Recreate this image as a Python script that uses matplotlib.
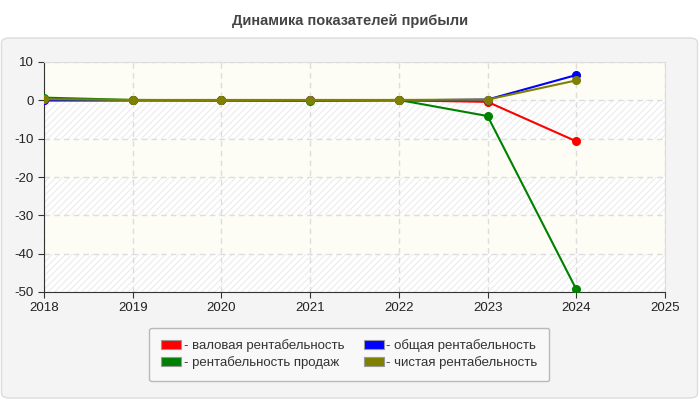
import matplotlib
matplotlib.use('Agg')
import matplotlib.pyplot as plt
from matplotlib.patches import FancyBboxPatch, Patch

plt.rcParams['font.family'] = ['Liberation Sans', 'DejaVu Sans']
plt.rcParams['hatch.linewidth'] = 0.8
plt.rcParams['axes.unicode_minus'] = False

years = [2018, 2019, 2020, 2021, 2022, 2023, 2024]
gross = [0.0, 0.0, 0.0, 0.0, 0.0, -0.4, -10.7]
total = [0.0, 0.0, 0.0, 0.0, 0.0, 0.2, 6.6]
sales = [0.7, 0.1, 0.0, -0.1, 0.1, -4.1, -49.3]
net = [0.3, 0.1, 0.1, 0.1, 0.1, 0.2, 5.2]

labels = ['- валовая рентабельность', '- общая рентабельность',
          '- рентабельность продаж', '- чистая рентабельность']
colors = ['#ff0000', '#0000ff', '#008000', '#808000']

fig = plt.figure(figsize=(7, 4), dpi=100)
fig.patch.set_facecolor('white')

# gray rounded panel behind the plot
panel = FancyBboxPatch((1.5 / 700, 2 / 400), 696 / 700, 360 / 400,
                       boxstyle='round,pad=0,rounding_size=0.012',
                       transform=fig.transFigure, facecolor='#f4f4f4',
                       edgecolor='#dcdcdc', linewidth=1, zorder=-10)
fig.patches.append(panel)

fig.text(0.5, 0.948, 'Динамика показателей прибыли', ha='center', va='center',
         fontsize=10.5, fontweight='bold', color='#444444')

ax = fig.add_axes([44 / 700, 1 - 292 / 400, 621 / 700, 230 / 400])
ax.set_facecolor('white')

# alternating bands
for lo in range(-50, 10, 10):
    if (lo // 10) % 2 == 0:
        ax.axhspan(lo, lo + 10, facecolor='#fdfdf5', linewidth=0, zorder=0)
    else:
        ax.axhspan(lo, lo + 10, facecolor='white', hatch='/////',
                   edgecolor='#ececec', linewidth=0, zorder=0)

for vals, c in zip([gross, total, sales, net], colors):
    ax.plot(years, vals, color=c, lw=1.5, marker='o', ms=5.5, zorder=3)

ax.set_xlim(2018, 2025)
ax.set_ylim(-50, 10)
ax.set_xticks(range(2018, 2026))
ax.set_yticks(range(-50, 11, 10))
ax.grid(True, color='#dddddd', linestyle=(0, (4, 3)), linewidth=1)
ax.set_axisbelow(True)
ax.tick_params(labelsize=9.5, length=4, color='#333333', labelcolor='#222222')
for s in ['top', 'right']:
    ax.spines[s].set_color('#dddddd')
for s in ['left', 'bottom']:
    ax.spines[s].set_color('#333333')

# legend fills column-wise, so reorder to get rows: red/blue, green/olive
order = [0, 2, 1, 3]
handles = [Patch(facecolor=colors[i], edgecolor='#999999', linewidth=0.8) for i in order]
leg = fig.legend(handles, [labels[i] for i in order], loc='center',
                 bbox_to_anchor=(0.499, 0.114), ncol=2, fontsize=9.5,
                 frameon=True, handlelength=1.5, handleheight=0.7,
                 handletextpad=0.2, columnspacing=1.5, labelspacing=0.3,
                 borderpad=0.9, fancybox=True)
leg.get_frame().set_facecolor('#fafafa')
leg.get_frame().set_edgecolor('#aaaaaa')
for t in leg.get_texts():
    t.set_color('#333333')

fig.savefig('out.png', dpi=100)
